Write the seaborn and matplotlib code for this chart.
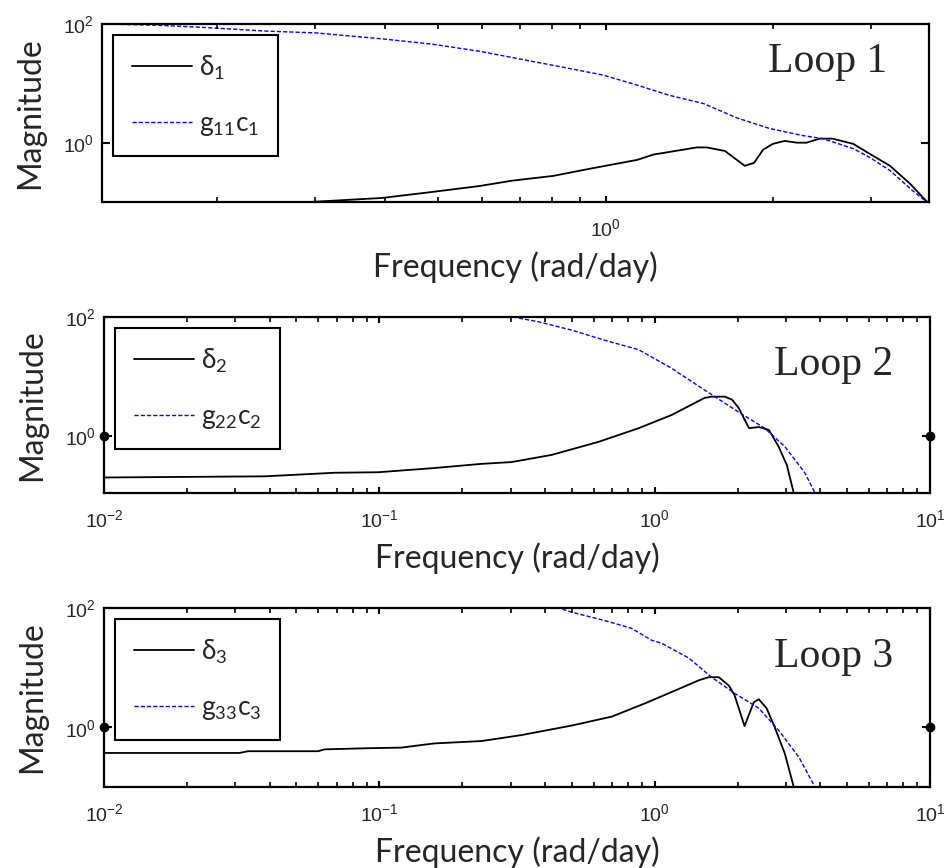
import numpy as np
import pandas as pd
import matplotlib
matplotlib.use("Agg")
import matplotlib.pyplot as plt
import seaborn as sns
from matplotlib.ticker import LogLocator, NullLocator, NullFormatter

# ---------------- data ----------------
# Loop 1
freq_d1 = [0.124, 0.2, 0.281, 0.322, 0.396, 0.488, 0.593, 0.679, 0.804, 0.936, 1.14, 1.22,
           1.46, 1.52, 1.64, 1.78, 1.85, 1.92, 2.00, 2.10, 2.21, 2.30, 2.43, 2.56, 2.79,
           2.99, 3.25, 3.53, 3.82]
mag_d1 = [0.075, 0.085, 0.098, 0.105, 0.117, 0.148, 0.186, 0.229, 0.275, 0.363, 0.513, 0.631,
          0.832, 0.832, 0.724, 0.407, 0.457, 0.759, 0.955, 1.07, 1.0, 1.0, 1.17, 1.17, 0.955,
          0.646, 0.407, 0.204, 0.093]
freq_g1 = [0.124, 0.155, 0.183, 0.245, 0.301, 0.396, 0.488, 0.593, 0.861, 0.989, 1.14, 1.30,
           1.50, 1.72, 1.97, 2.26, 2.46, 2.79, 2.99, 3.25, 3.57, 3.82]
mag_g1 = [100.0, 95.5, 89.1, 75.9, 70.8, 56.2, 45.7, 34.7, 17.8, 13.8, 9.33, 6.31,
          4.57, 2.63, 1.74, 1.32, 1.17, 0.794, 0.562, 0.339, 0.155, 0.093]

# Loop 2
freq_d2 = [0.01, 0.0382, 0.0686, 0.0991, 0.158, 0.235, 0.302, 0.422, 0.625, 0.875, 1.15,
           1.52, 1.61, 1.80, 1.91, 2.02, 2.20, 2.39, 2.60, 2.82, 3.02, 3.20, 3.30]
mag_d2 = [0.200, 0.209, 0.240, 0.245, 0.288, 0.339, 0.363, 0.479, 0.794, 1.35, 2.24,
          4.37, 4.57, 4.57, 4.07, 2.95, 1.35, 1.41, 1.26, 0.661, 0.324, 0.110, 0.07]
freq_g2 = [0.29, 0.378, 0.499, 0.658, 0.875, 1.15, 1.52, 2.02, 2.51, 2.97, 3.51, 3.82, 3.95]
mag_g2 = [105.0, 83.2, 60.3, 40.7, 28.2, 13.8, 5.89, 2.51, 1.35, 0.661, 0.240, 0.110, 0.08]

# Loop 3
freq_d3 = [0.01, 0.031, 0.0334, 0.060, 0.0631, 0.0912, 0.120, 0.158, 0.235, 0.328, 0.499,
           0.698, 0.920, 1.15, 1.45, 1.57, 1.71, 1.86, 1.95, 2.12, 2.29, 2.39, 2.55, 2.73,
           2.97, 3.20, 3.30]
mag_d3 = [0.372, 0.372, 0.398, 0.398, 0.427, 0.447, 0.457, 0.537, 0.589, 0.741, 1.07,
          1.51, 2.51, 3.89, 6.17, 6.92, 6.92, 5.01, 3.47, 1.05, 2.63, 2.95, 2.09, 1.0,
          0.363, 0.1, 0.07]
freq_g3 = [0.44, 0.499, 0.658, 0.824, 0.975, 1.06, 1.33, 1.61, 1.95, 2.39, 2.82, 3.34, 3.82, 3.95]
mag_g3 = [103.0, 85.1, 61.7, 45.7, 28.8, 25.7, 14.5, 6.92, 3.72, 2.09, 0.891, 0.316, 0.1, 0.08]

# unity reference markers drawn at the axis edges of loops 2 and 3
unity_freq = [0.01, 10.0]
unity_mag = [1.0, 1.0]

loop_titles = ["Loop 1", "Loop 2", "Loop 3"]
delta_labels = [r"$\mathregular{\delta_{1}}$", r"$\mathregular{\delta_{2}}$", r"$\mathregular{\delta_{3}}$"]
gc_labels = [r"$\mathregular{g_{11}c_{1}}$", r"$\mathregular{g_{22}c_{2}}$", r"$\mathregular{g_{33}c_{3}}$"]
xtick_vals = [0.01, 0.1, 1.0, 10.0]
xtick_labels = [r"$\mathsf{10^{-2}}$", r"$\mathsf{10^{-1}}$", r"$\mathsf{10^{0}}$", r"$\mathsf{10^{1}}$"]
ytick_vals = [1.0, 100.0]
ytick_labels = [r"$\mathsf{10^{0}}$", r"$\mathsf{10^{2}}$"]

# ---------------- style ----------------
sns.set_style("ticks")
plt.rcParams.update({
    "font.family": ["Lato", "DejaVu Sans"],
    "mathtext.fontset": "custom",
    "mathtext.rm": "Lato",
    "mathtext.it": "Lato:italic",
    "mathtext.sf": "Liberation Sans",
    "axes.axisbelow": False,
    "xtick.labelsize": 14, "ytick.labelsize": 14,
})

fig = plt.figure(figsize=(9.53, 8.68), dpi=100)
W, H = 953.0, 868.0

def axes_rect(l, r, t, b):
    return [l / W, 1 - b / H, (r - l) / W, (b - t) / H]

rects = [axes_rect(102, 929, 24, 202), axes_rect(104, 930, 317, 493), axes_rect(104, 930, 608, 787)]
xlims = [(0.124, 3.82), (0.01, 10.0), (0.01, 10.0)]
ylims = [(0.1, 100.0), (10 ** -0.96, 100.0), (0.1, 100.0)]
series = [(freq_d1, mag_d1, freq_g1, mag_g1),
          (freq_d2, mag_d2, freq_g2, mag_g2),
          (freq_d3, mag_d3, freq_g3, mag_g3)]
title_y = [0.73, 0.67, 0.67]
title_x = [0.949, 0.955, 0.955]

for i in range(3):
    ax = fig.add_axes(rects[i])
    fd, md, fg, mg = series[i]
    dfd = pd.DataFrame({"f": fd, "m": md})
    dfg = pd.DataFrame({"f": fg, "m": mg})
    sns.lineplot(data=dfd, x="f", y="m", ax=ax, color="black", lw=1.3,
                 estimator=None, sort=False, label=delta_labels[i])
    sns.lineplot(data=dfg, x="f", y="m", ax=ax, color="#0000ff", lw=1.0,
                 estimator=None, sort=False, label=gc_labels[i], linestyle=(0, (3, 1.5)))
    ax.set_xscale("log")
    ax.set_yscale("log")

    if i > 0:
        ax.plot(unity_freq, unity_mag, linestyle="none", marker="o", ms=6,
                color="black", clip_on=False, zorder=5)

    ax.set_xticks(xtick_vals)
    ax.set_xticklabels(xtick_labels)
    ax.xaxis.set_minor_locator(LogLocator(base=10, subs=np.arange(2, 10), numticks=50))
    ax.xaxis.set_minor_formatter(NullFormatter())
    ax.set_yticks(ytick_vals)
    ax.set_yticklabels(ytick_labels)
    ax.yaxis.set_minor_locator(NullLocator())
    ax.set_xlim(*xlims[i])
    ax.set_ylim(*ylims[i])

    ax.tick_params(axis="x", which="major", direction="in", length=4.5, width=1.5,
                   top=True, bottom=True, color="black", pad=11)
    ax.tick_params(axis="x", which="minor", direction="in", length=3.5, width=1.2,
                   top=True, bottom=True, color="black")
    ax.tick_params(axis="y", which="major", direction="in", length=5.5, width=1.5,
                   left=True, right=True, color="black", pad=6)
    for sp in ax.spines.values():
        sp.set_linewidth(1.6)
        sp.set_color("black")

    ax.set_xlabel("Frequency (rad/day)", fontsize=23, labelpad=9)
    ax.set_ylabel("Magnitude", fontsize=23, labelpad=13)

    ax.text(title_x[i], title_y[i], loop_titles[i], transform=ax.transAxes,
            ha="right", va="baseline", fontsize=30, family="Liberation Serif")

    leg = ax.legend(loc="upper left", bbox_to_anchor=(0.0, 1.0), fontsize=19,
                    frameon=True, fancybox=False, framealpha=1, edgecolor="black",
                    handlelength=2.3, handletextpad=0.27,
                    labelspacing=1.1, borderpad=0.7, borderaxespad=0.42)
    leg.get_frame().set_linewidth(1.5)

fig.savefig("out.png", dpi=100)
